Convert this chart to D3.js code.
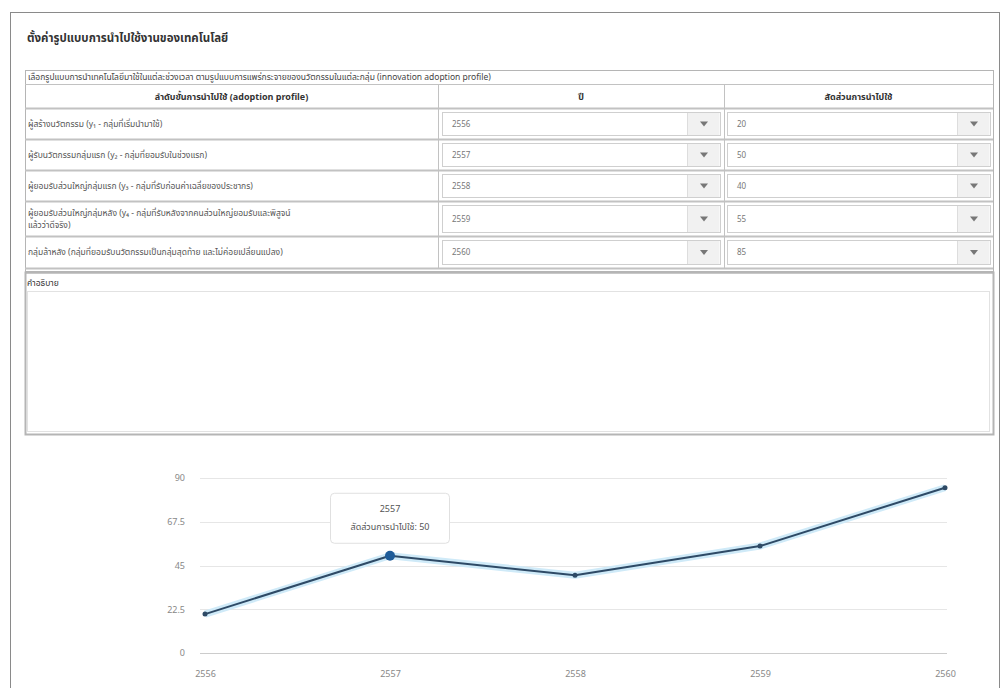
<!DOCTYPE html>
<html>
<head>
<meta charset="utf-8">
<script src="https://cdn.jsdelivr.net/npm/d3@7"></script>
<style>
  body { margin: 0; background: #fff; }
  svg text { font-family: Tahoma, "Noto Sans Thai", "Noto Sans", "DejaVu Sans", sans-serif; }
</style>
</head>
<body>
<script>
// data
const title = "ตั้งค่ารูปแบบการนำไปใช้งานของเทคโนโลยี"
const caption = "เลือกรูปแบบการนำเทคโนโลยีมาใช้ในแต่ละช่วงเวลา ตามรูปแบบการแพร่กระจายของนวัตกรรมในแต่ละกลุ่ม (innovation adoption profile)"
const headers = ["ลำดับขั้นการนำไปใช้ (adoption profile)", "ปี", "สัดส่วนการนำไปใช้"]
const stages = [
    ["ผู้สร้างนวัตกรรม (y₁ - กลุ่มที่เริ่มนำมาใช้)"],
    ["ผู้รับนวัตกรรมกลุ่มแรก (y₂ - กลุ่มที่ยอมรับในช่วงแรก)"],
    ["ผู้ยอมรับส่วนใหญ่กลุ่มแรก (y₃ - กลุ่มที่รับก่อนค่าเฉลี่ยของประชากร)"],
    ["ผู้ยอมรับส่วนใหญ่กลุ่มหลัง (y₄ - กลุ่มที่รับหลังจากคนส่วนใหญ่ยอมรับและพิสูจน์", "แล้วว่าดีจริง)"],
    ["กลุ่มล้าหลัง (กลุ่มที่ยอมรับนวัตกรรมเป็นกลุ่มสุดท้าย และไม่ค่อยเปลี่ยนแปลง)"]
]
const years = ["2556", "2557", "2558", "2559", "2560"]
const shares = [20, 50, 40, 55, 85]
const yTicks = [0, 22.5, 45, 67.5, 90]
const noteLabel = "คำอธิบาย"
const tipLabel = "สัดส่วนการนำไปใช้"
const tipIndex = 1

function main(){
    const width = 1008, height = 688

    const svg = d3.select("body").append("svg")
        .attr("width", width)
        .attr("height", height)

    // outer frame
    svg.append("rect")
        .attr("x", 10.5).attr("y", 12.5)
        .attr("width", 989).attr("height", 690)
        .attr("fill", "white")
        .attr("stroke", "#8a8a8a")

    svg.append("text")
        .attr("x", 27).attr("y", 42)
        .attr("font-size", "11.5px")
        .attr("font-weight", "bold")
        .attr("fill", "#333")
        .text(title)

    // ---- table ----
    const tLeft = 25, tRight = 993
    const colX = [25, 438, 724, 993]
    const rowTops = [70, 84, 108, 139, 170, 201, 236, 268]

    const tbl = svg.append("g")
    tbl.append("rect")
        .attr("x", tLeft + 0.5).attr("y", rowTops[0] + 0.5)
        .attr("width", tRight - tLeft).attr("height", rowTops[7] - rowTops[0] + 3)
        .attr("fill", "none").attr("stroke", "#b5b5b5")

    // horizontal row lines
    tbl.selectAll("line.row")
        .data(rowTops.slice(1))
        .enter().append("line")
        .attr("x1", tLeft).attr("x2", tRight)
        .attr("y1", d => d + 0.5).attr("y2", d => d + 0.5)
        .attr("stroke", "#c2c2c2")
        .attr("stroke-width", (d, i) => i === 0 ? 1 : 2)

    // vertical column lines (below caption)
    tbl.selectAll("line.col")
        .data(colX.slice(1, 3))
        .enter().append("line")
        .attr("x1", d => d + 0.5).attr("x2", d => d + 0.5)
        .attr("y1", rowTops[1]).attr("y2", rowTops[7])
        .attr("stroke", "#c2c2c2")

    tbl.append("text")
        .attr("x", 28).attr("y", 80)
        .attr("font-size", "8.5px").attr("fill", "#444")
        .text(caption)

    tbl.selectAll("text.head")
        .data(headers)
        .enter().append("text")
        .attr("x", (d, i) => (colX[i] + colX[i + 1]) / 2)
        .attr("y", 100)
        .attr("text-anchor", "middle")
        .attr("font-size", "9px")
        .attr("font-weight", "bold")
        .attr("fill", "#333")
        .text(d => d)

    const rows = tbl.selectAll("g.r")
        .data(stages)
        .enter().append("g")
        .attr("transform", (d, i) => `translate(0,${rowTops[i + 2]})`)

    rows.each(function (d, i) {
        const g = d3.select(this)
        const h = rowTops[i + 3] - rowTops[i + 2]
        const lines = d
        g.selectAll("text.lbl")
            .data(lines)
            .enter().append("text")
            .attr("x", 28)
            .attr("y", (t, j) => h / 2 + 3 - (lines.length - 1) * 6 + j * 12)
            .attr("font-size", "8.5px")
            .attr("fill", "#555")
            .text(t => t)

        // two select boxes
        const boxes = [
            {x: 442, w: 278, v: years[i]},
            {x: 727, w: 263, v: String(shares[i])}
        ]
        boxes.forEach(b => {
            g.append("rect")
                .attr("x", b.x + 0.5).attr("y", 4.5)
                .attr("width", b.w).attr("height", h - 8)
                .attr("fill", "white").attr("stroke", "#cfcfcf")
            g.append("rect")
                .attr("x", b.x + b.w - 32).attr("y", 5)
                .attr("width", 31.5).attr("height", h - 9)
                .attr("fill", "#f1f1f1")
            g.append("line")
                .attr("x1", b.x + b.w - 32.5).attr("x2", b.x + b.w - 32.5)
                .attr("y1", 5).attr("y2", h - 4)
                .attr("stroke", "#dddddd")
            const ax = b.x + b.w - 16, ay = h / 2
            g.append("path")
                .attr("d", `M${ax - 4},${ay - 2}L${ax + 4},${ay - 2}L${ax},${ay + 3}Z`)
                .attr("fill", "#777")
            g.append("text")
                .attr("x", b.x + 10).attr("y", h / 2 + 3)
                .attr("font-size", "8px").attr("fill", "#777")
                .text(b.v)
        })
    })

    // ---- description box ----
    svg.append("line")
        .attr("x1", 25).attr("x2", 993)
        .attr("y1", 272.5).attr("y2", 272.5)
        .attr("stroke", "#b5b5b5").attr("stroke-width", 2)
    svg.append("rect")
        .attr("x", 25.5).attr("y", 272.5)
        .attr("width", 968).attr("height", 162)
        .attr("fill", "none").attr("stroke", "#b5b5b5").attr("stroke-width", 2)
    svg.append("text")
        .attr("x", 27).attr("y", 286)
        .attr("font-size", "8.5px").attr("fill", "#333")
        .text(noteLabel)
    svg.append("rect")
        .attr("x", 27.5).attr("y", 291.5)
        .attr("width", 962).attr("height", 140)
        .attr("fill", "white").attr("stroke", "#e2e2e2")

    // ---- line chart ----
    const x = d3.scalePoint().domain(years).range([205, 945])
    const y = d3.scaleLinear().domain([0, 90]).range([653, 478])

    const chart = svg.append("g")

    chart.selectAll("line.grid")
        .data(yTicks)
        .enter().append("line")
        .attr("x1", 200).attr("x2", 947)
        .attr("y1", d => Math.round(y(d)) + 0.5)
        .attr("y2", d => Math.round(y(d)) + 0.5)
        .attr("stroke", d => d === 0 ? "#cccccc" : "#e6e6e6")

    const yAxis = chart.append("g")
        .attr("transform", "translate(188,0)")
        .call(d3.axisLeft(y).tickValues(yTicks).tickSize(0).tickFormat(d => d))
    yAxis.select(".domain").remove()
    yAxis.selectAll("text")
        .attr("font-size", "9px").attr("fill", "#888")

    const xAxis = chart.append("g")
        .attr("transform", "translate(0,668)")
        .call(d3.axisBottom(x).tickSize(0))
    xAxis.select(".domain").remove()
    xAxis.selectAll("text")
        .attr("font-size", "9px").attr("fill", "#888")

    const pts = years.map((yr, i) => [x(yr), y(shares[i])])
    const line = d3.line()

    chart.append("path")
        .attr("d", line(pts))
        .attr("fill", "none")
        .attr("stroke", "#cfeaf8")
        .attr("stroke-width", 7)
        .attr("stroke-linejoin", "round")
    chart.append("path")
        .attr("d", line(pts))
        .attr("fill", "none")
        .attr("stroke", "#2e4a66")
        .attr("stroke-width", 2)
        .attr("stroke-linejoin", "round")

    chart.selectAll("circle.pt")
        .data(years)
        .enter().append("circle")
        .attr("cx", d => x(d))
        .attr("cy", (d, i) => y(shares[i]))
        .attr("r", (d, i) => i === tipIndex ? 5 : 2.5)
        .attr("fill", (d, i) => i === tipIndex ? "#1f5c99" : "#2e4a66")

    // tooltip
    const tx = x(years[tipIndex]), ty = y(shares[tipIndex])
    const tip = chart.append("g")
        .attr("transform", `translate(${tx},${ty - 63})`)
    tip.append("rect")
        .attr("x", -59.5).attr("y", 0.5)
        .attr("width", 119).attr("height", 50)
        .attr("rx", 4)
        .attr("fill", "white")
        .attr("stroke", "#e0e0e0")
    tip.append("text")
        .attr("y", 19).attr("text-anchor", "middle")
        .attr("font-size", "9px").attr("fill", "#555")
        .text(years[tipIndex])
    tip.append("text")
        .attr("y", 37).attr("text-anchor", "middle")
        .attr("font-size", "9px").attr("fill", "#555")
        .text(tipLabel + ": " + shares[tipIndex])
}

main()
</script>
</body>
</html>
